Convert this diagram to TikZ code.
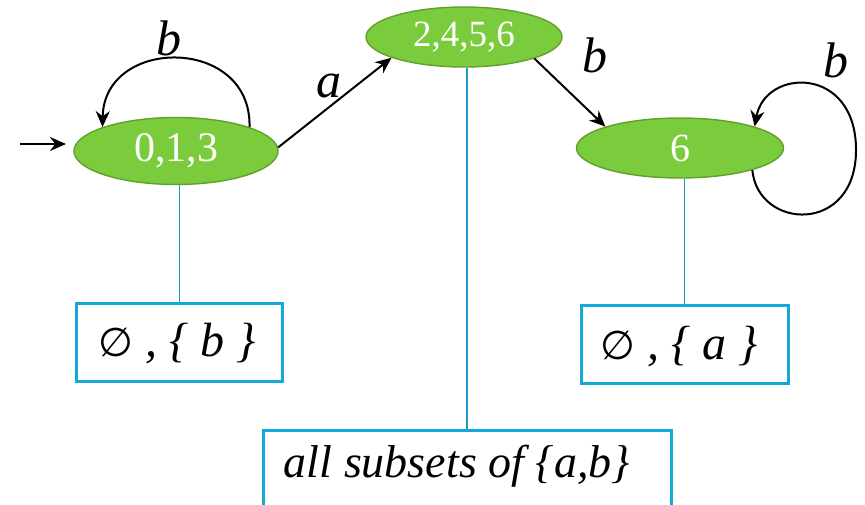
\documentclass[tikz,border=0pt]{standalone}
\usepackage{fontspec}
\setmainfont{Liberation Serif}
\newfontfamily\symfont{DejaVu Sans}
\usetikzlibrary{shapes.geometric,arrows.meta}
\definecolor{stfill}{RGB}{122,204,60}
\definecolor{stdraw}{RGB}{96,160,44}
\definecolor{boxc}{RGB}{20,168,216}
\definecolor{linec}{RGB}{30,150,200}
\tikzset{
  state/.style={ellipse, fill=stfill, draw=stdraw, line width=0.7pt, inner sep=0pt, text=white},
  trans/.style={-{Stealth[length=8pt,width=7pt]}, line width=1pt, black},
  elab/.style={font=\fontsize{25}{27}\selectfont\itshape},
  setbox/.style={draw=boxc, line width=1.5pt, inner sep=0pt},
  settxt/.style={font=\fontsize{24}{26}\selectfont\itshape},
  link/.style={draw=linec, line width=0.9pt}
}
\newcommand{\emptysym}{{\upshape\symfont\fontsize{20}{22}\selectfont ∅}}
\begin{document}
\begin{tikzpicture}[x=0.5pt,y=-0.5pt]
\useasboundingbox (0,0) rectangle (865,504);
\clip (0,0) rectangle (865,504);
% states
\node[state, minimum width=102pt, minimum height=33.5pt, font=\fontsize{21}{23}\selectfont] (s0) at (176,151) {0,1,3};
\node[state, minimum width=98pt, minimum height=30pt, font=\fontsize{18.5}{20}\selectfont] (s1) at (464,37) {2,4,5,6};
\node[state, minimum width=103.5pt, minimum height=30pt, font=\fontsize{20}{22}\selectfont] (s2) at (680,148) {6};
% start arrow
\coordinate (start) at (20,144);
\draw[trans] (start) -- (66,144) coordinate (startend);
% transitions
\draw[trans] (s0.18) .. controls (252,36) and (104,36) .. (s0.162);
\node[elab] (lb0) at (169,38) {b};
\draw[trans] (s0.2) -- (s1.196);
\node[elab] (la) at (329,86) {a};
\draw[trans] (s1.-17) -- (s2.164);
\node[elab] (lb1) at (595,55) {b};
\draw[trans] (s2.-17) .. controls (758,230) and (856,235) .. (856,150) .. controls (856,65) and (765,68) .. (s2.16);
\node[elab] (lb2) at (836,60) {b};
% sets
\node[setbox, minimum width=103pt, minimum height=39pt] (b0) at (179.5,342) {};
\node[settxt] (t0) at (177,344) {\emptysym\ , \{ b \}};
\node[setbox, minimum width=103.5pt, minimum height=39pt] (b2) at (684.5,344) {};
\node[settxt] (t2) at (679,347) {\emptysym\ , \{ a \}};
\node[setbox, minimum width=204pt, minimum height=75pt, anchor=north] (b1) at (467,429) {};
\node[font=\fontsize{23}{25}\selectfont\itshape] (t1) at (457,466) {all subsets of \{a,b\}};
% links
\draw[link] (s0.south -| b0.north) -- (b0.north);
\draw[link] (s1.south -| b1.north) -- (b1.north);
\draw[link] (s2.south -| b2.north) -- (b2.north);
\end{tikzpicture}
\end{document}
